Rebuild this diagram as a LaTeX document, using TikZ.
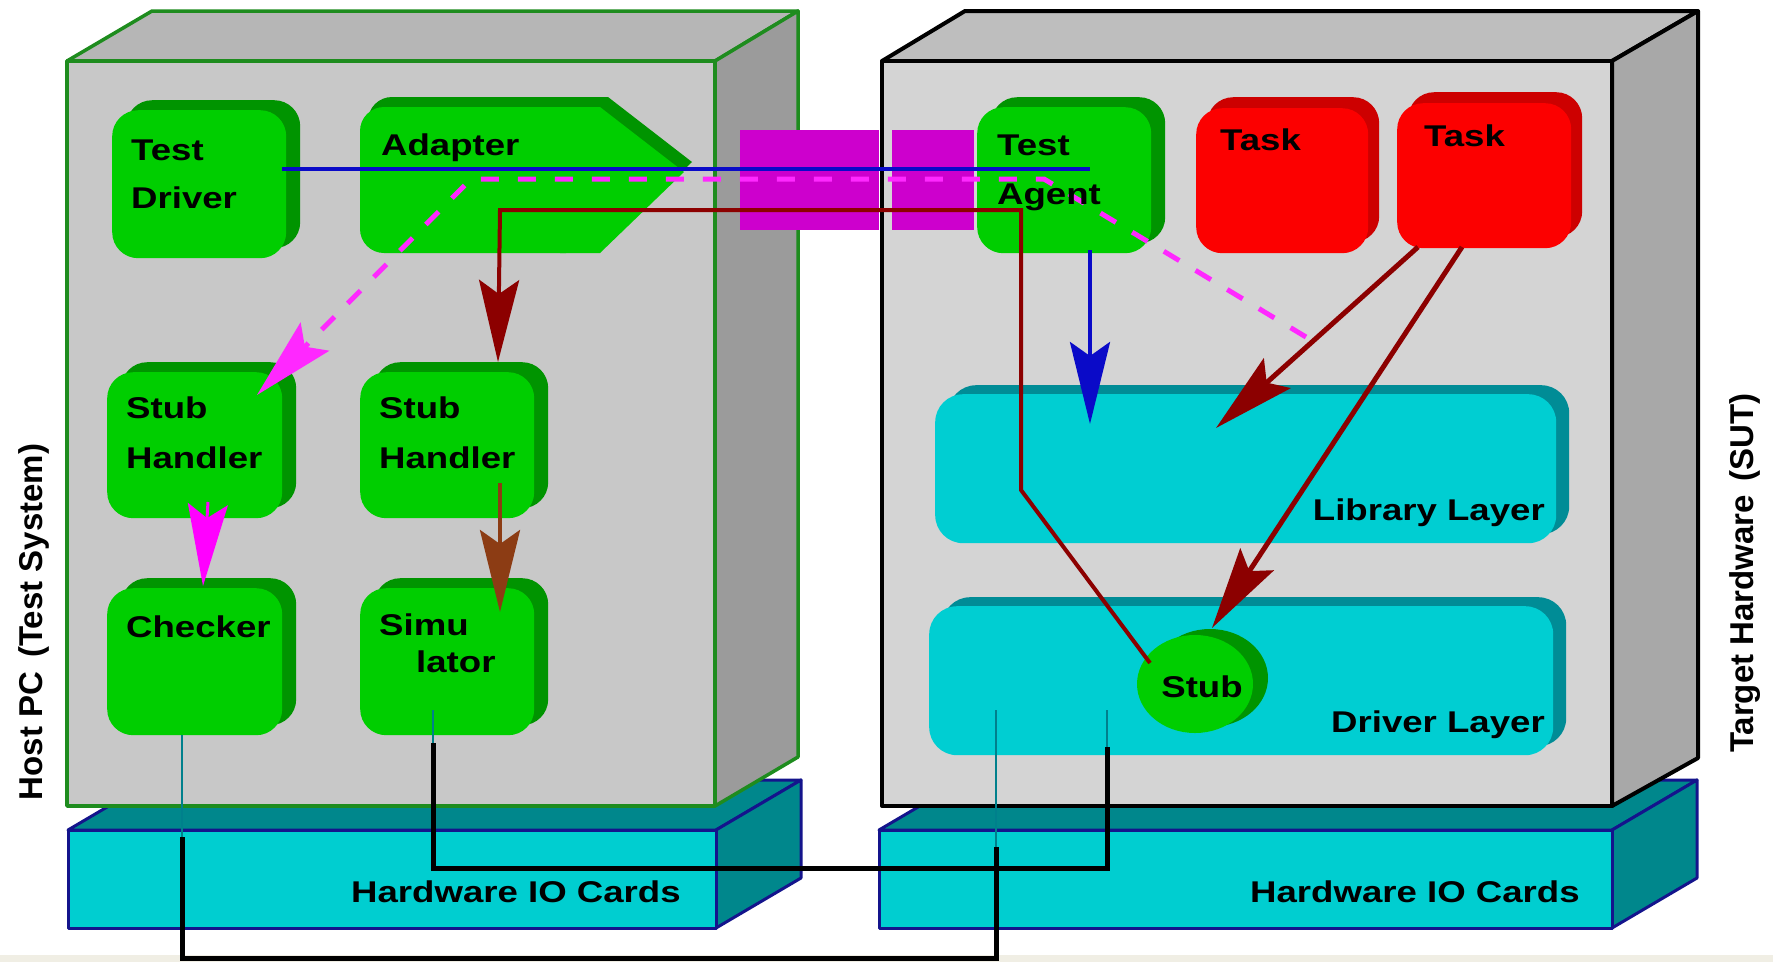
\documentclass[tikz,border=0pt]{standalone}
\usepackage{fontspec}
\setmainfont{Liberation Sans}
\newfontfamily\boxfont{Liberation Sans}[FakeStretch=1.22]
\usetikzlibrary{arrows.meta,shadows,shapes.geometric}

\definecolor{boxgreen}{RGB}{0,206,0}
\definecolor{boxgreendk}{RGB}{0,148,0}
\definecolor{taskred}{RGB}{252,0,0}
\definecolor{taskreddk}{RGB}{205,0,0}
\definecolor{layercyan}{RGB}{0,206,210}
\definecolor{layerteal}{RGB}{0,140,150}
\definecolor{iocyan}{RGB}{0,206,208}
\definecolor{ioteal}{RGB}{0,135,140}
\definecolor{ionavy}{RGB}{20,20,140}
\definecolor{hostgreen}{RGB}{30,140,30}
\definecolor{hostfront}{RGB}{200,200,200}
\definecolor{sutfront}{RGB}{212,212,212}
\definecolor{hosttop}{RGB}{182,182,182}
\definecolor{suttop}{RGB}{190,190,190}
\definecolor{hostside}{RGB}{155,155,155}
\definecolor{sutside}{RGB}{168,168,168}
\definecolor{linkmag}{RGB}{205,0,205}
\definecolor{dashmag}{RGB}{255,40,255}
\definecolor{msgblue}{RGB}{10,10,200}
\definecolor{callred}{RGB}{140,0,0}
\definecolor{simbrown}{RGB}{140,60,20}
\definecolor{wireteal}{RGB}{0,128,140}
\definecolor{floorbeige}{RGB}{240,238,228}

\tikzset{
  lbl/.style={inner sep=0pt, font=\boxfont\bfseries\fontsize{30}{36}\selectfont, text=black},
  sidelbl/.style={inner sep=0pt, font=\bfseries\fontsize{33}{40}\selectfont, rotate=90},
  roundbox/.style={rectangle, anchor=north west, inner sep=0pt, rounded corners=26pt},
  greenbox/.style={roundbox, fill=boxgreen,
    general shadow={fill=boxgreendk, shadow xshift=14pt, shadow yshift=10pt}},
  redbox/.style={roundbox, fill=taskred,
    general shadow={fill=taskreddk, shadow xshift=11pt, shadow yshift=11pt}},
  layerbox/.style={roundbox, rounded corners=28pt, fill=layercyan,
    general shadow={fill=layerteal, shadow xshift=13pt, shadow yshift=9pt}},
  linkblock/.style={rectangle, anchor=north west, inner sep=0pt, fill=linkmag},
  bighead/.style={-{Stealth[length=82pt, width=40pt, inset=14pt]}},
  msgline/.style={draw=msgblue, line width=4pt},
  callline/.style={draw=callred, line width=4pt},
  dashline/.style={draw=dashmag, line width=5pt, dash pattern=on 18pt off 19pt},
  wire/.style={draw=black, line width=5pt, line join=miter},
  probe/.style={draw=wireteal, line width=2.5pt},
  hostedge/.style={draw=hostgreen, line width=3.5pt, line join=round},
  sutedge/.style={draw=black, line width=4pt, line join=round},
  ioedge/.style={draw=ionavy, line width=3pt, line join=round},
}

\begin{document}
\begin{tikzpicture}[x=1pt,y=-1pt]
\useasboundingbox (0,0) rectangle (1773,962);
\fill[white] (0,0) rectangle (1773,962);
\fill[floorbeige] (0,955) rectangle (1773,962);

% ---------- hardware IO card slabs ----------
\filldraw[ioedge, fill=ioteal] (68,830) -- (153,780) -- (801,780) -- (716,830) -- cycle;
\filldraw[ioedge, fill=ioteal] (716,830) -- (801,780) -- (801,878) -- (716,928) -- cycle;
\filldraw[ioedge, fill=iocyan] (68,830) rectangle (716,928);

\filldraw[ioedge, fill=ioteal] (879,830) -- (964,780) -- (1697,780) -- (1612,830) -- cycle;
\filldraw[ioedge, fill=ioteal] (1612,830) -- (1697,780) -- (1697,878) -- (1612,928) -- cycle;
\filldraw[ioedge, fill=iocyan] (879,830) rectangle (1612,928);

% ---------- host PC cabinet ----------
\filldraw[hostedge, fill=hosttop] (67,61) -- (152,11) -- (798,11) -- (715,61) -- cycle;
\filldraw[hostedge, fill=hostside] (715,61) -- (798,11) -- (798,757) -- (715,806) -- cycle;
\filldraw[hostedge, fill=hostfront] (67,61) rectangle (715,806);

% ---------- target cabinet ----------
\filldraw[sutedge, fill=suttop] (882,61) -- (965,11) -- (1698,11) -- (1612,61) -- cycle;
\filldraw[sutedge, fill=sutside] (1612,61) -- (1698,11) -- (1698,758) -- (1612,806) -- cycle;
\filldraw[sutedge, fill=sutfront] (882,61) rectangle (1612,806);

% ---------- communication link ----------
\node[linkblock, minimum width=139pt, minimum height=100pt] (linkA) at (740,130) {};
\node[linkblock, minimum width=82pt, minimum height=100pt] (linkB) at (892,130) {};

% ---------- host components ----------
\node[greenbox, minimum width=174pt, minimum height=148pt] (driver) at (112,110) {};

% adapter: rounded left side, pointed right side
\begin{scope}[shift={(8,-10)}]
  \fill[boxgreendk, rounded corners=24pt] (360,107) rectangle (590,253);
  \fill[boxgreendk] (560,107) -- (600,107) -- (684,172) -- (600,253) -- (560,253) -- cycle;
\end{scope}
\fill[boxgreen, rounded corners=24pt] (360,107) rectangle (590,253);
\fill[boxgreen] (560,107) -- (600,107) -- (684,172) -- (600,253) -- (560,253) -- cycle;

\node[greenbox, minimum width=175pt, minimum height=146pt] (stubhA) at (107,372) {};
\node[greenbox, minimum width=174pt, minimum height=146pt] (stubhB) at (360,372) {};
\node[greenbox, minimum width=175pt, minimum height=147pt] (checker) at (107,588) {};
\node[greenbox, minimum width=174pt, minimum height=147pt] (simulator) at (360,588) {};

% ---------- target components ----------
\node[greenbox, minimum width=174pt, minimum height=146pt] (agent) at (977,107) {};
\node[redbox, minimum width=172pt, minimum height=145pt] (taskA) at (1196,108) {};
\node[redbox, minimum width=174pt, minimum height=145pt] (taskB) at (1397,103) {};
\node[layerbox, minimum width=621pt, minimum height=149pt] (library) at (935,394) {};
\node[layerbox, minimum width=624pt, minimum height=149pt] (drivers) at (929,606) {};
\node[ellipse, fill=boxgreen, inner sep=0pt, minimum width=116pt, minimum height=98pt,
      general shadow={fill=boxgreendk, shadow xshift=15pt, shadow yshift=6pt}] (stub) at (1195,684) {};

% ---------- connector end points ----------
\coordinate (msgS) at (282,169);
\coordinate (msgE) at (1090,169);
\coordinate (agentOut) at (1090,250);
\coordinate (libIn) at (1090,424);
\coordinate (dashA) at (1306,337);
\coordinate (dashB) at (1044,179);
\coordinate (dashC) at (471,179);
\coordinate (dashD) at (257,395);
\coordinate (chkTop) at (208,502);
\coordinate (chkIn) at (203,586);
\coordinate (stubOut) at (1150,663);
\coordinate (callBend) at (1021,490);
\coordinate (callTop) at (1021,210);
\coordinate (callLeft) at (500,210);
\coordinate (shIn) at (498,362);
\coordinate (shOut) at (500,483);
\coordinate (simIn) at (500,612);
\coordinate (taskOutA) at (1418,247);
\coordinate (libTip) at (1216,428);
\coordinate (taskOutB) at (1462,247);
\coordinate (stubTip) at (1212,628);

% ---------- flows ----------
\draw[msgline] (msgS) -- (msgE);
\draw[msgline, bighead] (agentOut) -- (libIn);
\draw[dashline, bighead] (dashA) -- (dashB) -- (dashC) -- (dashD);
\draw[draw={rgb,255:red,255;green,0;blue,255}, line width=3pt, bighead] (chkTop) -- (chkIn);
\draw[callline, bighead] (stubOut) -- (callBend) -- (callTop) -- (callLeft) -- (shIn);
\draw[draw=simbrown, line width=4pt, bighead] (shOut) -- (simIn);
\draw[callline, line width=5pt, bighead] (taskOutA) -- (libTip);
\draw[callline, line width=5pt, bighead] (taskOutB) -- (stubTip);

% ---------- IO wiring ----------
\draw[probe] (433,710) -- (433,743);
\draw[wire] (433,743) -- (433,868) -- (1107,868) -- (1107,747);
\draw[probe] (1107,747) -- (1107,710);
\draw[probe] (182,735) -- (182,837);
\draw[wire] (182,837) -- (182,958) -- (996,958) -- (996,847);
\draw[probe] (996,847) -- (996,710);

% ---------- texts ----------
\node[lbl, anchor=base west] (driverA) at (131,160) {Test};
\node[lbl, anchor=base west] (driverB) at (131,208) {Driver};
\node[lbl, anchor=base west] (adapter) at (381,155) {Adapter};
\node[lbl, anchor=base west] (stubhAa) at (126,418) {Stub};
\node[lbl, anchor=base west] (stubhAb) at (126,468) {Handler};
\node[lbl, anchor=base west] (stubhBa) at (379,418) {Stub};
\node[lbl, anchor=base west] (stubhBb) at (379,468) {Handler};
\node[lbl, anchor=base west] (checkerT) at (126,637) {Checker};
\node[lbl, anchor=base west] (simA) at (379,635) {Simu};
\node[lbl, anchor=base west] (simB) at (416,672) {lator};
\node[lbl, anchor=base west] (agentA) at (997,155) {Test};
\node[lbl, anchor=base west] (agentB) at (997,204) {Agent};
\node[lbl, anchor=base west] (taskAt) at (1220,150) {Task};
\node[lbl, anchor=base west] (taskBt) at (1424,146) {Task};
\node[lbl, anchor=base east] (libraryT) at (1545,520) {Library Layer};
\node[lbl, anchor=base east] (driversT) at (1545,732) {Driver Layer};
\node[lbl, anchor=base] (stubT) at (1202,697) {Stub};
\node[lbl, anchor=base west] (ioA) at (351,902) {Hardware IO Cards};
\node[lbl, anchor=base west] (ioB) at (1250,902) {Hardware IO Cards};
\node[sidelbl] (hostT) at (34,622) {Host PC\hspace{14pt}(Test System)};
\node[sidelbl] (sutT) at (1745,573) {Target Hardware\hspace{14pt}(SUT)};
\end{tikzpicture}
\end{document}
